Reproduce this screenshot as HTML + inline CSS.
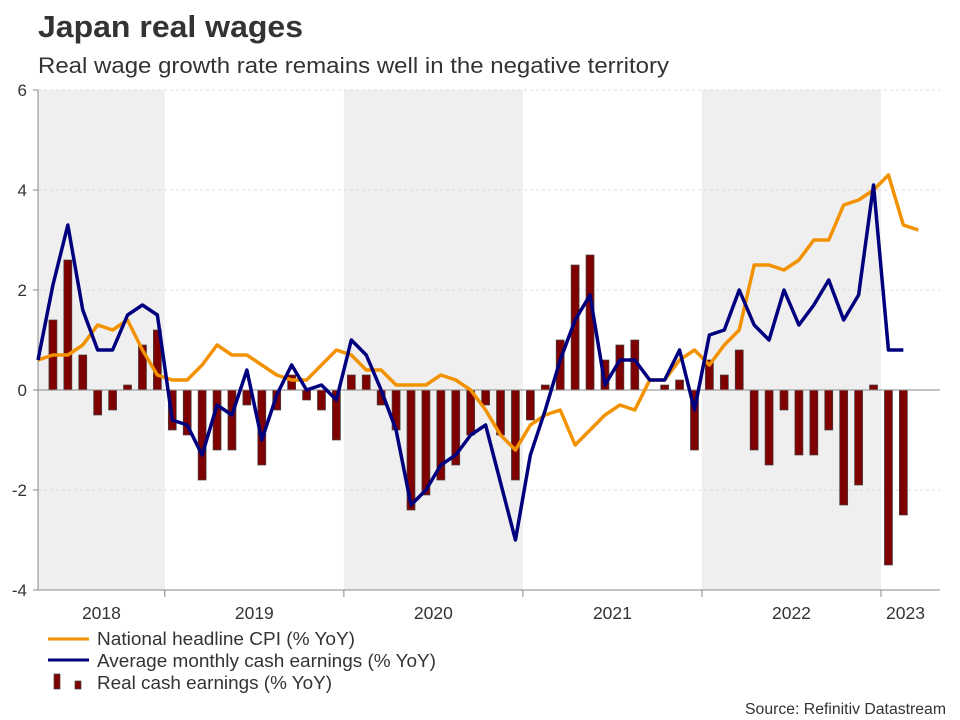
<!DOCTYPE html>
<html><head><meta charset="utf-8"><style>
body{margin:0;background:#fff;}
svg{display:block;font-family:"Liberation Sans",Arial,sans-serif;}
</style></head><body>
<svg id="chart" width="960" height="720" viewBox="0 0 960 720">
<text x="38" y="37" font-size="31" font-weight="bold" fill="#333" textLength="265" lengthAdjust="spacingAndGlyphs">Japan real wages</text>
<text x="38" y="73" font-size="22.5" fill="#333" textLength="631" lengthAdjust="spacingAndGlyphs">Real wage growth rate remains well in the negative territory</text>
<g id="plot"></g>
<g>
<line x1="48" y1="639" x2="89" y2="639" stroke="#f39200" stroke-width="3"/>
<text x="97" y="645" font-size="18" fill="#333" textLength="258" lengthAdjust="spacingAndGlyphs">National headline CPI (% YoY)</text>
<line x1="48" y1="660" x2="89" y2="660" stroke="#00007f" stroke-width="3"/>
<text x="97" y="667" font-size="18" fill="#333" textLength="339" lengthAdjust="spacingAndGlyphs">Average monthly cash earnings (% YoY)</text>
<rect x="54" y="674" width="6" height="15" fill="#7f0000" stroke="#444" stroke-width="0.7"/>
<rect x="75" y="681" width="6" height="8" fill="#7f0000" stroke="#444" stroke-width="0.7"/>
<text x="97" y="689" font-size="18" fill="#333" textLength="235" lengthAdjust="spacingAndGlyphs">Real cash earnings (% YoY)</text>
</g>
<text x="946" y="714" font-size="15.5" fill="#333" text-anchor="end" textLength="201" lengthAdjust="spacingAndGlyphs">Source: Refinitiv Datastream</text>
</svg>
<script>
// Monthly data starting Apr 2018
const cpi = [0.6,0.7,0.7,0.9,1.3,1.2,1.4,0.8,0.3,0.2,0.2,0.5,0.9,0.7,0.7,0.5,0.3,0.2,0.2,0.5,0.8,0.7,0.4,0.4,0.1,0.1,0.1,0.3,0.2,0.0,-0.4,-0.9,-1.2,-0.7,-0.5,-0.4,-1.1,-0.8,-0.5,-0.3,-0.4,0.2,0.2,0.6,0.8,0.5,0.9,1.2,2.5,2.5,2.4,2.6,3.0,3.0,3.7,3.8,4.0,4.3,3.3,3.2];
const earnings = [0.6,2.1,3.3,1.6,0.8,0.8,1.5,1.7,1.5,-0.6,-0.7,-1.3,-0.3,-0.5,0.4,-1.0,-0.1,0.5,0.0,0.1,-0.2,1.0,0.7,0.0,-0.8,-2.3,-2.0,-1.5,-1.3,-0.9,-0.7,-1.85,-3.0,-1.3,-0.4,0.6,1.4,1.9,0.1,0.6,0.6,0.2,0.2,0.8,-0.4,1.1,1.2,2.0,1.3,1.0,2.0,1.3,1.7,2.2,1.4,1.9,4.1,0.8,0.8];
const realEarnings = [0,1.4,2.6,0.7,-0.5,-0.4,0.1,0.9,1.2,-0.8,-0.9,-1.8,-1.2,-1.2,-0.3,-1.5,-0.4,0.3,-0.2,-0.4,-1.0,0.3,0.3,-0.3,-0.8,-2.4,-2.1,-1.8,-1.5,-0.9,-0.3,-0.9,-1.8,-0.6,0.1,1.0,2.5,2.7,0.6,0.9,1.0,0.0,0.1,0.2,-1.2,0.6,0.3,0.8,-1.2,-1.5,-0.4,-1.3,-1.3,-0.8,-2.3,-1.9,0.1,-3.5,-2.5];
const yTicks = [6,4,2,0,-2,-4];
const yearLabels = ["2018","2019","2020","2021","2022","2023"];
const yearStartIdx = [-3,9,21,33,45,57]; // month index of each January (Apr 2018 = 0)

const NS="http://www.w3.org/2000/svg";
const X0=38, X1=940, STEP=14.92;
const x = i => X0 + STEP*i;
const y = v => 390 - 50*v;
const plot=document.getElementById('plot');
function mk(tag,attrs,parent){const e=document.createElementNS(NS,tag);for(const k in attrs)e.setAttribute(k,attrs[k]);(parent||plot).appendChild(e);return e;}

yearStartIdx.forEach((s,j)=>{
  if(j%2===0){
    const a=Math.max(X0,x(s-0.5)), b=Math.min(X1,x(s+11.5));
    if(b>a){const r=mk('rect',{x:a,y:y(6),width:b-a,height:y(-4)-y(6),fill:'#efefef'});
    
    }
  }
});
yTicks.forEach(t=>{
  if(t!==0){const l=mk('line',{x1:X0,x2:X1,y1:y(t),y2:y(t),stroke:'#ddd','stroke-dasharray':'3,3','stroke-width':1});
  
  }
  const tk=mk('line',{x1:X0-5,x2:X0,y1:y(t),y2:y(t),stroke:'#888'});
  
  
  const tx=mk('text',{x:27,y:y(t)+6,'font-size':17,fill:'#333','text-anchor':'end'});
  tx.textContent=t;
  
  
});
yearStartIdx.forEach((s,j)=>{
  const bx=x(s-0.5);
  if(bx>X0){const l=mk('line',{x1:bx,x2:bx,y1:y(-4),y2:y(-4)+7,stroke:'#888'});
  
  }
  const a=Math.max(X0,bx), b=Math.min(X1-10,x(s+11.5));
  const tx=mk('text',{x:(a+b)/2,y:619,'font-size':17.5,fill:'#333','text-anchor':'middle'});
  tx.textContent=yearLabels[j];
  
  
});
const defs=mk('defs',{});
const cp=mk('clipPath',{id:'clip'},defs);
mk('rect',{x:X0,y:0,width:X1-X0,height:720},cp);
const bg=mk('g',{'clip-path':'url(#clip)'});


realEarnings.forEach((v,i)=>{
  if(v===0) return;
  const top=Math.min(y(v),y(0)), h=Math.abs(y(v)-y(0));
  const r=mk('rect',{x:x(i)-4,y:top,width:8,height:h,fill:'#7f0000',stroke:'#444','stroke-width':0.7},bg);
  
  
});
const ax=mk('line',{x1:X0,x2:X0,y1:y(6),y2:y(-4),stroke:'#888'});


const zl=mk('line',{x1:X0,x2:X1,y1:y(0),y2:y(0),stroke:'#888'});


const bl=mk('line',{x1:X0,x2:X1,y1:y(-4),y2:y(-4),stroke:'#888'});


function line(arr,color,name){
  const p=mk('polyline',{points:arr.map((v,i)=>x(i)+','+y(v)).join(' '),fill:'none',stroke:color,'stroke-width':3.5,'stroke-linejoin':'round'});
  
  
}
line(cpi,'#f39200','cpi-line');
line(earnings,'#00007f','earnings-line');
</script>
</body></html>
